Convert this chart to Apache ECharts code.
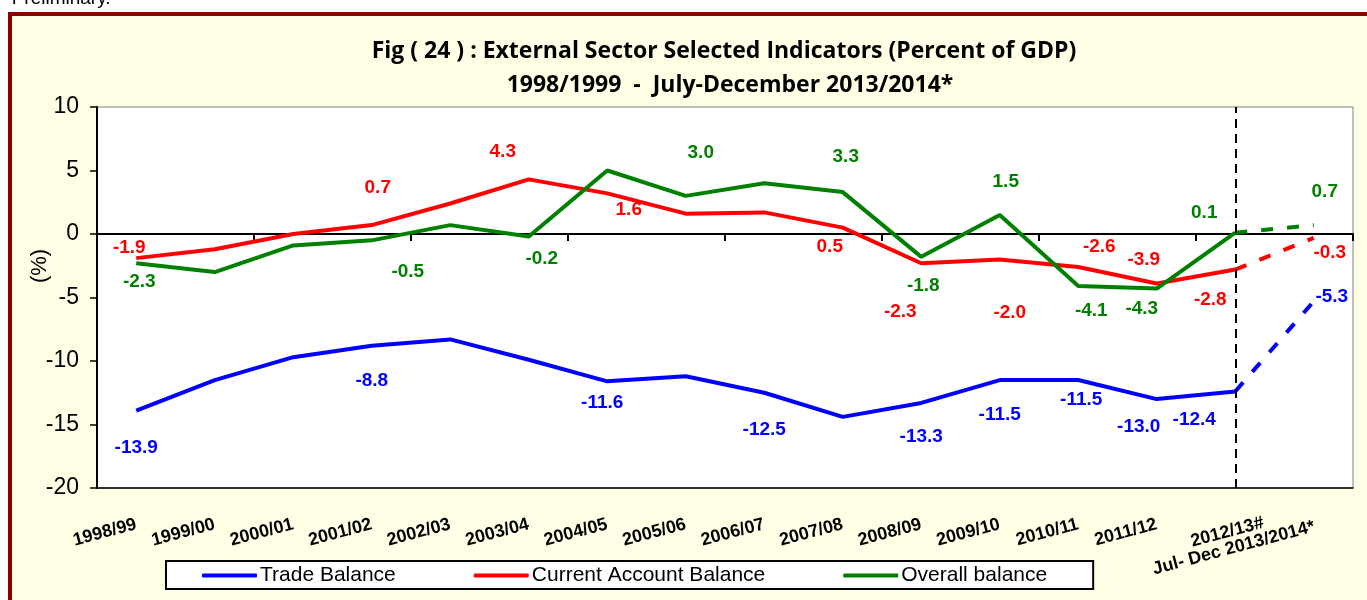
<!DOCTYPE html>
<html>
<head>
<meta charset="utf-8">
<script src="https://cdn.jsdelivr.net/npm/echarts@6/dist/echarts.min.js"></script>
<style>
  html, body { margin: 0; padding: 0; background: #fff; overflow: hidden; }
  #frame {
    position: absolute; left: 8px; top: 12px; width: 1400px; height: 700px;
    border: 4px solid #8b0000; background: #ffffe6;
  }
  #chart { position: absolute; left: 0; top: 0; width: 1367px; height: 600px; }
</style>
</head>
<body>
<div id="frame"></div>
<div id="chart"></div>
<script>
// categories and values (% of GDP)
var categories = ['1998/99', '1999/00', '2000/01', '2001/02', '2002/03', '2003/04', '2004/05', '2005/06',
  '2006/07', '2007/08', '2008/09', '2009/10', '2010/11', '2011/12', '2012/13#', 'Jul- Dec 2013/2014*']
var tradeBalance = [-13.9, -11.5, -9.7, -8.8, -8.3, -9.9, -11.6, -11.2, -12.5, -14.4, -13.3, -11.5, -11.5, -13.0, -12.4, -5.3]
var currentAccount = [-1.9, -1.2, 0.0, 0.7, 2.4, 4.3, 3.2, 1.6, 1.7, 0.5, -2.3, -2.0, -2.6, -3.9, -2.8, -0.3]
var overallBalance = [-2.3, -3.0, -0.9, -0.5, 0.7, -0.2, 5.0, 3.0, 4.0, 3.3, -1.8, 1.5, -4.1, -4.3, 0.1, 0.7]
var yMin = -20
var yMax = 10
var yStep = 5

// where the value labels sit relative to their point (styling only)
var tradeLabelShift = {0: [0, 37], 3: [0, 35], 6: [-5, 21], 8: [0, 37], 10: [0, 34], 11: [0, 35], 12: [3, 20], 13: [-18, 28], 14: [-41, 28], 15: [18, -5]}
var currentLabelShift = {0: [-7, -10], 3: [6, -37], 5: [-26, -28], 7: [-57, -4], 9: [-13, 19], 10: [-21, 49], 11: [10, 53], 12: [21, -20], 13: [-13, -24], 14: [-25, 30], 15: [16, 15]}
var overallLabelShift = {0: [3, 19], 3: [36, 31], 5: [13, 22], 7: [15, -43], 9: [3, -35], 10: [2, 29], 11: [6, -33], 12: [13, 25], 13: [-15, 20], 14: [-31, -20], 15: [11, -33]}

var lastSolid = 14

function buildData (values, shifts, from, to, labelFrom, labelTo) {
  return values.map(function (v, i) {
    if (i < from || i > to) return '-'
    var item = {value: v}
    if (shifts[i] && i >= labelFrom && i <= labelTo) {
      item.label = {show: true, offset: shifts[i]}
    }
    return item
  })
}

function makeSeries (name, color, values, shifts) {
  var label = {
    show: false,
    position: 'inside',
    color: color,
    fontFamily: 'Liberation Sans',
    fontWeight: 'bold',
    fontSize: 19,
    formatter: function (p) { return p.value.toFixed(1) }
  }
  return [{
    name: name,
    type: 'line',
    symbol: 'circle',
    symbolSize: 0,
    showAllSymbol: true,
    lineStyle: {color: color, width: 4},
    itemStyle: {color: color},
    label: label,
    data: buildData(values, shifts, 0, lastSolid, 0, lastSolid)
  }, {
    name: name,
    type: 'line',
    symbol: 'circle',
    symbolSize: 0,
    showAllSymbol: true,
    lineStyle: {color: color, width: 4, type: [12, 14]},
    itemStyle: {color: color},
    label: label,
    data: buildData(values, shifts, lastSolid, values.length - 1, lastSolid + 1, values.length - 1)
  }]
}

var series = [].concat(
  makeSeries('Trade Balance', '#0000ff', tradeBalance, tradeLabelShift),
  makeSeries('Current Account Balance', '#ff0000', currentAccount, currentLabelShift),
  makeSeries('Overall balance', '#008000', overallBalance, overallLabelShift)
)

// vertical dashed divider before the half-year figures
series[0].markLine = {
  silent: true,
  symbol: 'none',
  animation: false,
  label: {show: false},
  lineStyle: {color: '#000', width: 2, type: [9, 6]},
  data: [{xAxis: lastSolid}]
}

var labelFont = {color: '#000', fontFamily: 'Liberation Sans', fontWeight: 'bold', fontSize: 18}

var option = {
  animation: false,
  textStyle: {fontFamily: 'Liberation Sans'},
  graphic: [
    {type: 'text', left: -1, top: -11, style: {text: '* Preliminary.', font: '19px Liberation Sans', fill: '#000'}},
    {type: 'text', x: 724, y: 51, style: {text: 'Fig ( 24 ) : External Sector Selected Indicators (Percent of GDP)', font: 'bold 23px Open Sans', fill: '#000', align: 'center', verticalAlign: 'middle'}},
    {type: 'text', x: 730, y: 85, style: {text: '1998/1999  -  July-December 2013/2014*', font: 'bold 23px Open Sans', fill: '#000', align: 'center', verticalAlign: 'middle'}},
    {type: 'text', x: 40, y: 266, rotation: Math.PI / 2, style: {text: '(%)', font: '22px Liberation Sans', fill: '#000', align: 'center', verticalAlign: 'middle'}}
  ],
  grid: {
    left: 97,
    right: 14,
    top: 107,
    bottom: 112,
    show: true,
    backgroundColor: '#fff',
    borderColor: '#808080',
    borderWidth: 1
  },
  legend: {
    data: ['Trade Balance', 'Current Account Balance', 'Overall balance'],
    left: 166,
    top: 561,
    icon: 'roundRect',
    itemWidth: 55,
    itemHeight: 4,
    itemGap: 78,
    padding: [4, 46, 3, 36],
    backgroundColor: '#fff',
    borderColor: '#000',
    borderWidth: 2,
    borderRadius: 0,
    textStyle: {fontFamily: 'Liberation Sans', fontSize: 21, color: '#000', padding: [0, 0, 0, -2]}
  },
  xAxis: [{
    type: 'category',
    data: categories,
    position: 'bottom',
    boundaryGap: true,
    axisLine: {onZero: false, lineStyle: {color: '#000', width: 1.5}},
    axisTick: {show: false},
    axisLabel: Object.assign({
      interval: 0,
      rotate: 15,
      margin: 36,
      // the last two labels are stacked under the half-year point, as in the source
      formatter: function (v, i) {
        if (i === lastSolid) return ''
        if (i === categories.length - 1) return '{a|' + categories[lastSolid] + '}\n{b|' + v + '}\n{c| }'
        return v
      },
      rich: {
        a: Object.assign({lineHeight: 17, padding: [0, 48, 0, 0]}, labelFont),
        b: Object.assign({lineHeight: 17}, labelFont),
        c: Object.assign({lineHeight: 12}, labelFont)
      }
    }, labelFont),
    splitLine: {show: false}
  }, {
    type: 'category',
    data: categories,
    boundaryGap: true,
    axisLine: {onZero: true, onZeroAxisIndex: 0, lineStyle: {color: '#000', width: 2}},
    axisTick: {show: true, inside: true, length: 7, lineStyle: {color: '#000', width: 2}},
    axisLabel: {show: false},
    splitLine: {show: false}
  }],
  yAxis: {
    type: 'value',
    min: yMin,
    max: yMax,
    interval: yStep,
    axisLine: {show: true, lineStyle: {color: '#000', width: 2}},
    axisTick: {show: true, length: 7, lineStyle: {color: '#000', width: 1.5}},
    axisLabel: {color: '#000', fontFamily: 'Liberation Sans', fontSize: 23, margin: 18},
    splitLine: {show: false}
  },
  series: series
}

var chart = echarts.init(document.getElementById('chart'))
chart.setOption(option)
</script>
</body>
</html>
